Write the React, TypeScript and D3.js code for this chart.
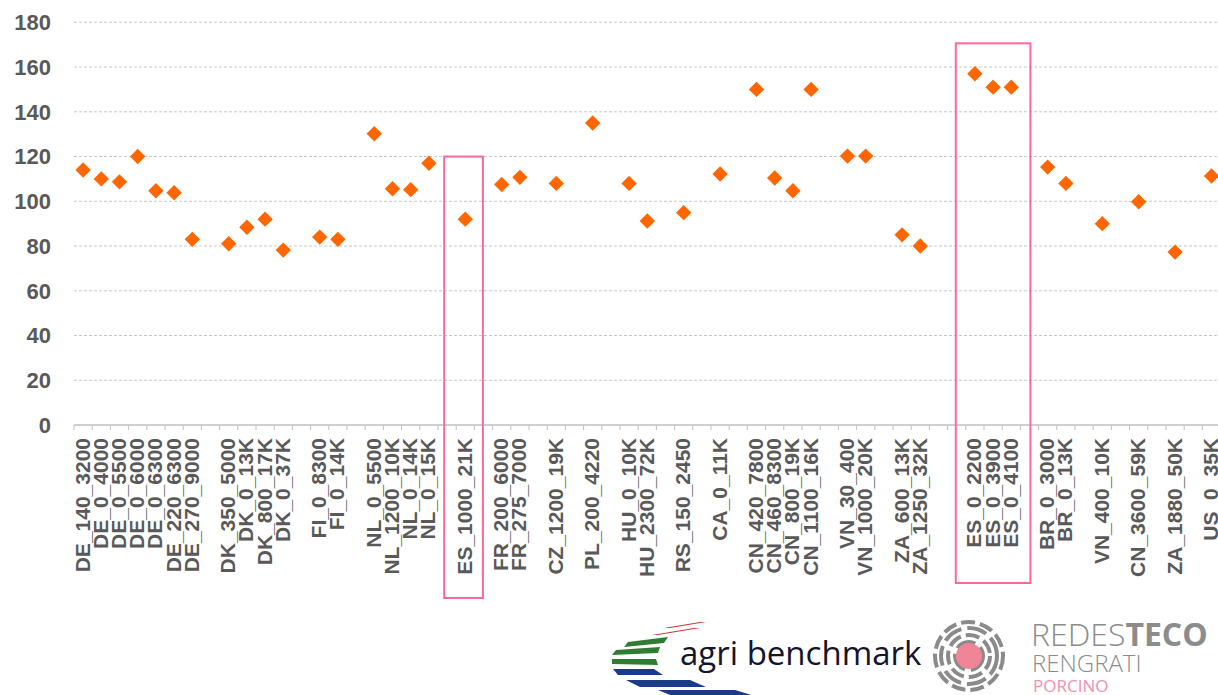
import React from "react";
import * as d3 from "d3";

// Categories (empty string = gap slot)
const categories: string[] = [
  "DE_140_3200", "DE_0_4000", "DE_0_5500", "DE_0_6000", "DE_0_6300", "DE_220_6300", "DE_270_9000", "",
  "DK_350_5000", "DK_0_13K", "DK_800_17K", "DK_0_37K", "",
  "FI_0_8300", "FI_0_14K", "",
  "NL_0_5500", "NL_1200_10K", "NL_0_14K", "NL_0_15K", "",
  "ES_1000_21K", "",
  "FR_200_6000", "FR_275_7000", "",
  "CZ_1200_19K", "",
  "PL_200_4220", "",
  "HU_0_10K", "HU_2300_72K", "",
  "RS_150_2450", "",
  "CA_0_11K", "",
  "CN_420_7800", "CN_460_8300", "CN_800_19K", "CN_1100_16K", "",
  "VN_30_400", "VN_1000_20K", "",
  "ZA_600_13K", "ZA_1250_32K", "", "",
  "ES_0_2200", "ES_0_3900", "ES_0_4100", "",
  "BR_0_3000", "BR_0_13K", "",
  "VN_400_10K", "",
  "CN_3600_59K", "",
  "ZA_1880_50K", "",
  "US_0_35K",
];

const values: (number | null)[] = [
  114, 110, 108.7, 120, 104.7, 103.8, 83, null,
  81, 88.4, 92, 78.2, null,
  84, 83, null,
  130.2, 105.6, 105.2, 117, null,
  92, null,
  107.5, 110.7, null,
  108, null,
  135, null,
  108, 91.2, null,
  94.9, null,
  112.2, null,
  150, 110.4, 104.7, 150, null,
  120.2, 120.2, null,
  85, 80, null, null,
  157, 151, 151, null,
  115.3, 108, null,
  90, null,
  99.8, null,
  77.3, null,
  111.3,
];

const yTicks: number[] = [0, 20, 40, 60, 80, 100, 120, 140, 160, 180];

// Highlight boxes: first/last category, top value
const highlights = [
  { from: "ES_1000_21K", to: "ES_1000_21K", top: 120, bottomPx: 598, padL: 12, padR: 8.5 },
  { from: "ES_0_2200", to: "ES_0_4100", top: 170.6, bottomPx: 583, padL: 10, padR: 10 },
];

const W = 1218;
const H = 695;
const plotLeft = 74;
const step = 18.2;
const plotTop = 22.3;
const plotBottom = 425;

export default function App() {
  const idx = d3.range(categories.length);
  const x = d3
    .scaleBand<number>()
    .domain(idx)
    .range([plotLeft, plotLeft + step * categories.length])
    .paddingInner(0)
    .paddingOuter(0);
  const y = d3.scaleLinear().domain([0, 180]).range([plotBottom, plotTop]);
  const bw = x.bandwidth();
  const cx = (i: number) => (x(i) as number) + bw / 2;
  const diamond = d3.symbol().type(d3.symbolDiamond2).size(150)();
  const grey = "#595959";
  const font = "'Liberation Sans', Arial, sans-serif";
  const logoFont = "'Open Sans', 'Noto Sans', sans-serif";

  return (
    <div style={{ position: "absolute", left: 0, top: 0, width: W, height: H, background: "#fff", overflow: "hidden" }}>
      <svg width={W} height={H} style={{ display: "block" }}>
        <rect width={W} height={H} fill="#fff" />
        {/* gridlines */}
        {yTicks.filter((t) => t > 0).map((t) => (
          <line key={t} x1={plotLeft} x2={W} y1={y(t)} y2={y(t)} stroke="#c8c8c8" strokeWidth={1} strokeDasharray="3,2" />
        ))}
        {/* axis */}
        <line x1={plotLeft} x2={W} y1={y(0)} y2={y(0)} stroke="#bfbfbf" strokeWidth={1.3} />
        {idx.map((i) => (
          <line key={"t" + i} x1={x(i) as number} x2={x(i) as number} y1={y(0)} y2={y(0) + 5} stroke="#bfbfbf" strokeWidth={1} />
        ))}
        {/* y tick labels */}
        {yTicks.map((t) => (
          <text key={"y" + t} x={51} y={y(t)} dy="0.36em" textAnchor="end" fontFamily={font} fontWeight="bold" fontSize={22} fill={grey}>
            {t}
          </text>
        ))}
        {/* x labels */}
        {categories.map((c, i) =>
          c ? (
            <text key={"x" + i} transform={`translate(${cx(i) - 1},${438}) rotate(-90)`} textAnchor="end" dy="0.36em" fontFamily={font} fontWeight="bold" fontSize={21} fill={grey}>
              {c}
            </text>
          ) : null
        )}
        {/* points */}
        {values.map((v, i) =>
          v == null ? null : (
            <path key={"p" + i} d={diamond as string} transform={`translate(${cx(i)},${y(v)})`} fill="#FF6600" />
          )
        )}
        {/* highlight boxes */}
        {highlights.map((h, k) => {
          const i0 = categories.indexOf(h.from);
          const i1 = categories.indexOf(h.to);
          const x0 = (x(i0) as number) - h.padL;
          const x1 = (x(i1) as number) + bw + h.padR;
          const yt = y(h.top);
          return <rect key={"h" + k} x={x0} y={yt} width={x1 - x0} height={h.bottomPx - yt} fill="none" stroke="#FF6699" strokeWidth={2} />;
        })}
        {/* logos */}
        <g>
          <polygon points="664,628 700,622 706,622 670,628" fill="#d32f2f" />
          <polygon points="652,635 694,628 700,628 658,635" fill="#d32f2f" />
          <polygon points="628,642 668,637 664,643 624,647" fill="#2e7d32" />
          <polygon points="616,650 660,647 658,653 612,655" fill="#2e7d32" />
          <polygon points="612,659 656,659 658,665 612,664" fill="#2e7d32" />
          <polygon points="613,669 654,669 663,675 618,675" fill="#1a3a8a" />
          <polygon points="626,680 690,680 706,687 640,687" fill="#1a3a8a" />
          <polygon points="658,690 735,690 758,697 675,697" fill="#1a3a8a" />
          <text x={680} y={665} fontFamily={logoFont} fontSize={33} fill="#14142e">agri benchmark</text>
          {[14, 21, 28, 34].map((r, k) => (
            <circle key={k} cx={969} cy={656} r={r} fill="none" stroke="#8a8a8a" strokeWidth={4} strokeDasharray={k % 2 ? "14,5" : "20,6"} />
          ))}
          <circle cx={969} cy={656} r={13} fill="#f08597" />
          <text x={1031} y={646} fontFamily={logoFont} fontSize={32} fill="#8c8c8c">
            <tspan fontWeight={300}>REDES</tspan>
            <tspan fontWeight="bold">TECO</tspan>
          </text>
          <text x={1032} y={672} fontFamily={logoFont} fontSize={24} fill="#8c8c8c" fontWeight={300}>RENGRATI</text>
          <text x={1033} y={692} fontFamily={logoFont} fontSize={17} fill="#f48fb1">PORCINO</text>
        </g>
      </svg>
    </div>
  );
}
